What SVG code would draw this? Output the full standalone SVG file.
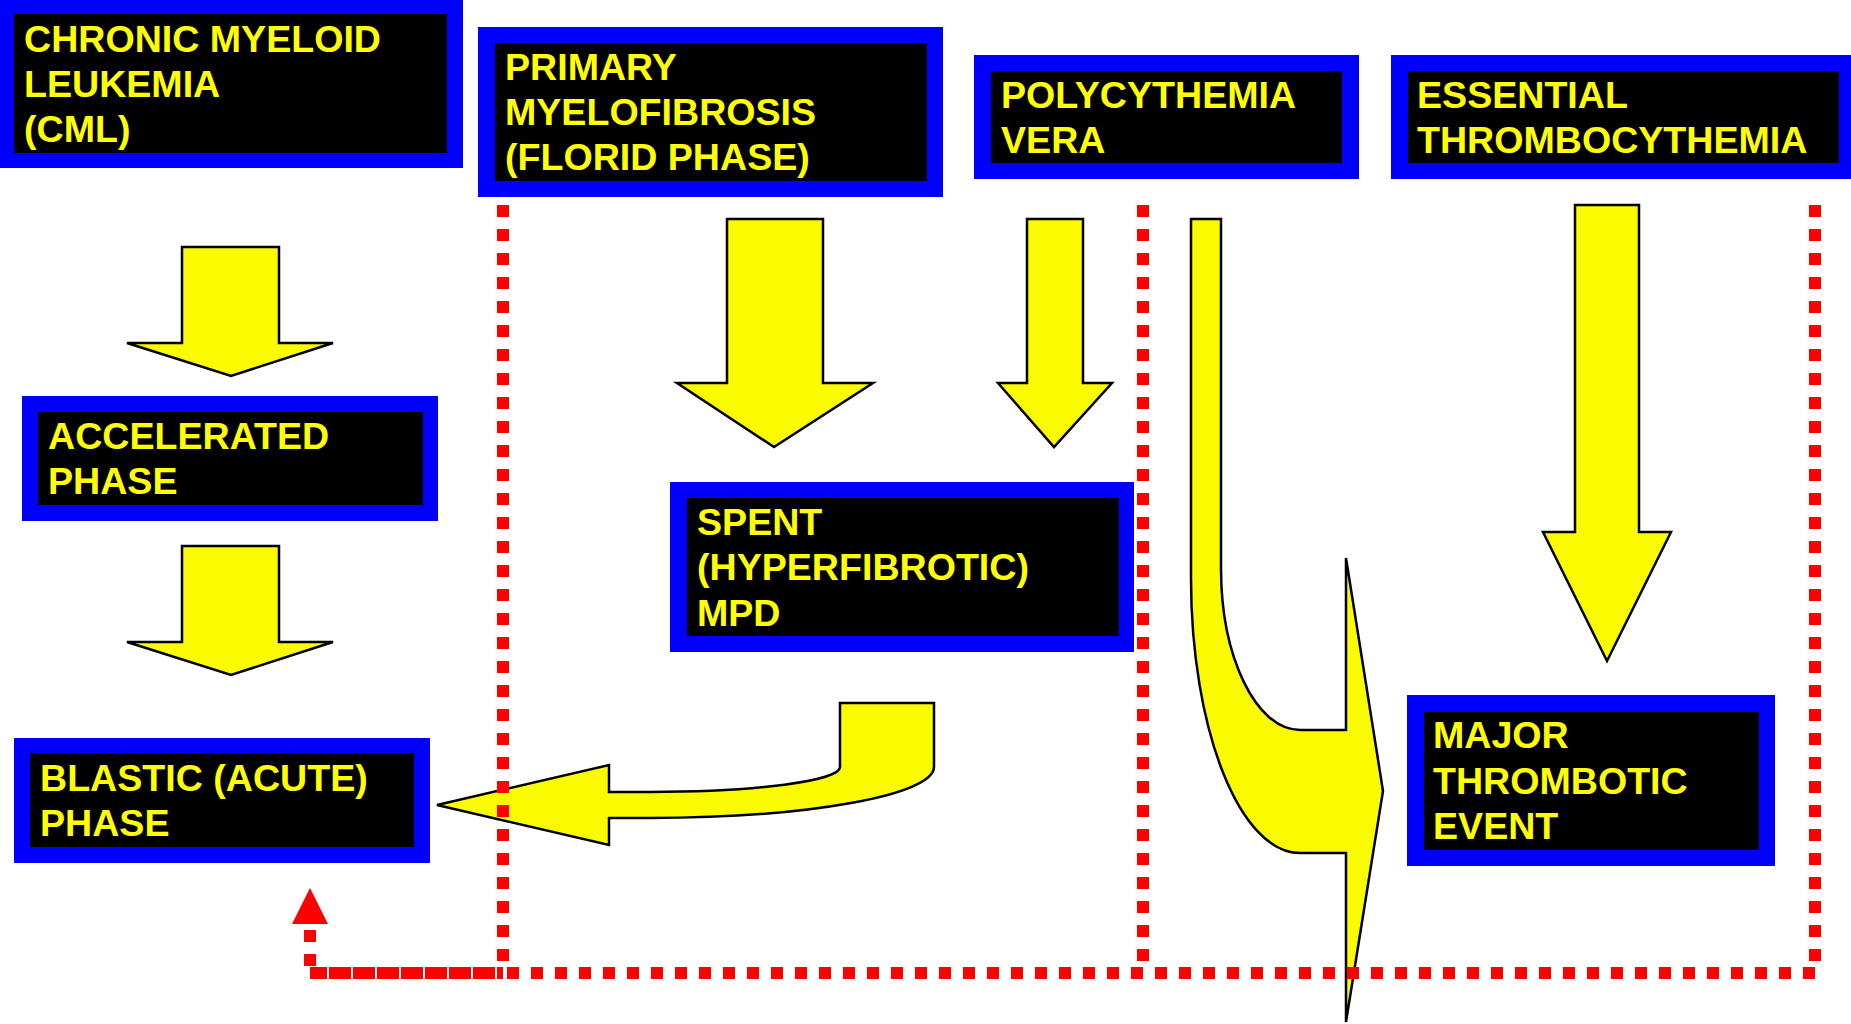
<svg xmlns="http://www.w3.org/2000/svg" width="1851" height="1024" viewBox="0 0 1851 1024">
<style>
.outer{fill:#0000FF}
.inner{fill:#000000}
.lbl{font-family:"Liberation Sans",Arial,sans-serif;font-weight:bold;font-size:37.6px;fill:#FFFF00}
.ya{fill:#FAFA00;stroke:#000000;stroke-width:2.5;stroke-linejoin:miter}
.red{fill:none;stroke:#FF0000;stroke-width:12;stroke-dasharray:12 12}
</style>
<rect width="1851" height="1024" fill="#FFFFFF"/>

<g id="connectors">
  <g id="yellow-arrows">
    <path class="ya" d="M182,247 L279,247 L279,343 L333,343 L231,376 L127,343 L182,343 Z"/>
    <path class="ya" d="M182,546 L279,546 L279,642 L333,642 L231,675 L127,642 L182,642 Z"/>
    <path class="ya" d="M727,219 L823,219 L823,383 L873,383 L774,447 L677,383 L727,383 Z"/>
    <path class="ya" d="M1027,219 L1083,219 L1083,383 L1112,383 L1054,447 L998,383 L1027,383 Z"/>
    <path class="ya" d="M1575,205 L1639,205 L1639,532 L1671,532 L1607,661 L1543,532 L1575,532 Z"/>
    <path class="ya" d="M840,703 L934,703 L934,767 C934,795 807,818 650,818 L609,818 L609,845 L437,805 L609,765 L609,792 L650,792 C755,792 840,781 840,767 Z"/>
    <path class="ya" d="M1191,219 L1221,219 L1221,568 C1221,657 1256,730 1300,730 L1346,730 L1346,558 L1383,791 L1346,1022 L1346,853 L1300,853 C1240,853 1191,730 1191,578 Z"/>
  </g>
  <g id="red-dotted">
    <path class="red" d="M503,205 L503,973"/>
    <path class="red" d="M1143,205 L1143,973"/>
    <path class="red" d="M1815,205 L1815,973 L310,973 L310,926"/>
    <path class="red" d="M503,973 L310,973" stroke-dashoffset="6"/>
    <polygon points="310,888 328,924 292,924" fill="#FF0000"/>
  </g>
</g>

<g id="cml">
  <rect class="outer" x="0" y="0" width="463" height="168"/>
  <rect class="inner" x="14" y="14" width="433" height="139"/>
  <text class="lbl" x="24" y="52">CHRONIC MYELOID</text>
  <text class="lbl" x="24" y="97">LEUKEMIA</text>
  <text class="lbl" x="24" y="142">(CML)</text>
</g>
<g id="pmf">
  <rect class="outer" x="478" y="27" width="465" height="170"/>
  <rect class="inner" x="495" y="43" width="432" height="138"/>
  <text class="lbl" x="505" y="80">PRIMARY</text>
  <text class="lbl" x="505" y="125">MYELOFIBROSIS</text>
  <text class="lbl" x="505" y="170">(FLORID PHASE)</text>
</g>
<g id="pv">
  <rect class="outer" x="974" y="55" width="385" height="124"/>
  <rect class="inner" x="991" y="71" width="351" height="92"/>
  <text class="lbl" x="1001" y="108">POLYCYTHEMIA</text>
  <text class="lbl" x="1001" y="153">VERA</text>
</g>
<g id="et">
  <rect class="outer" x="1391" y="55" width="460" height="124"/>
  <rect class="inner" x="1408" y="71" width="431" height="92"/>
  <text class="lbl" x="1417" y="108">ESSENTIAL</text>
  <text class="lbl" x="1417" y="153">THROMBOCYTHEMIA</text>
</g>
<g id="accelerated">
  <rect class="outer" x="22" y="396" width="416" height="125"/>
  <rect class="inner" x="38" y="412" width="385" height="93"/>
  <text class="lbl" x="48" y="449">ACCELERATED</text>
  <text class="lbl" x="48" y="494">PHASE</text>
</g>
<g id="spent">
  <rect class="outer" x="670" y="482" width="464" height="170"/>
  <rect class="inner" x="687" y="498" width="432" height="138"/>
  <text class="lbl" x="697" y="535">SPENT</text>
  <text class="lbl" x="697" y="580">(HYPERFIBROTIC)</text>
  <text class="lbl" x="697" y="626">MPD</text>
</g>
<g id="blastic">
  <rect class="outer" x="14" y="738" width="416" height="125"/>
  <rect class="inner" x="30" y="753" width="384" height="94"/>
  <text class="lbl" x="40" y="791">BLASTIC (ACUTE)</text>
  <text class="lbl" x="40" y="836">PHASE</text>
</g>
<g id="thrombotic">
  <rect class="outer" x="1407" y="695" width="368" height="171"/>
  <rect class="inner" x="1424" y="712" width="335" height="138"/>
  <text class="lbl" x="1433" y="748">MAJOR</text>
  <text class="lbl" x="1433" y="794">THROMBOTIC</text>
  <text class="lbl" x="1433" y="839">EVENT</text>
</g>
</svg>
